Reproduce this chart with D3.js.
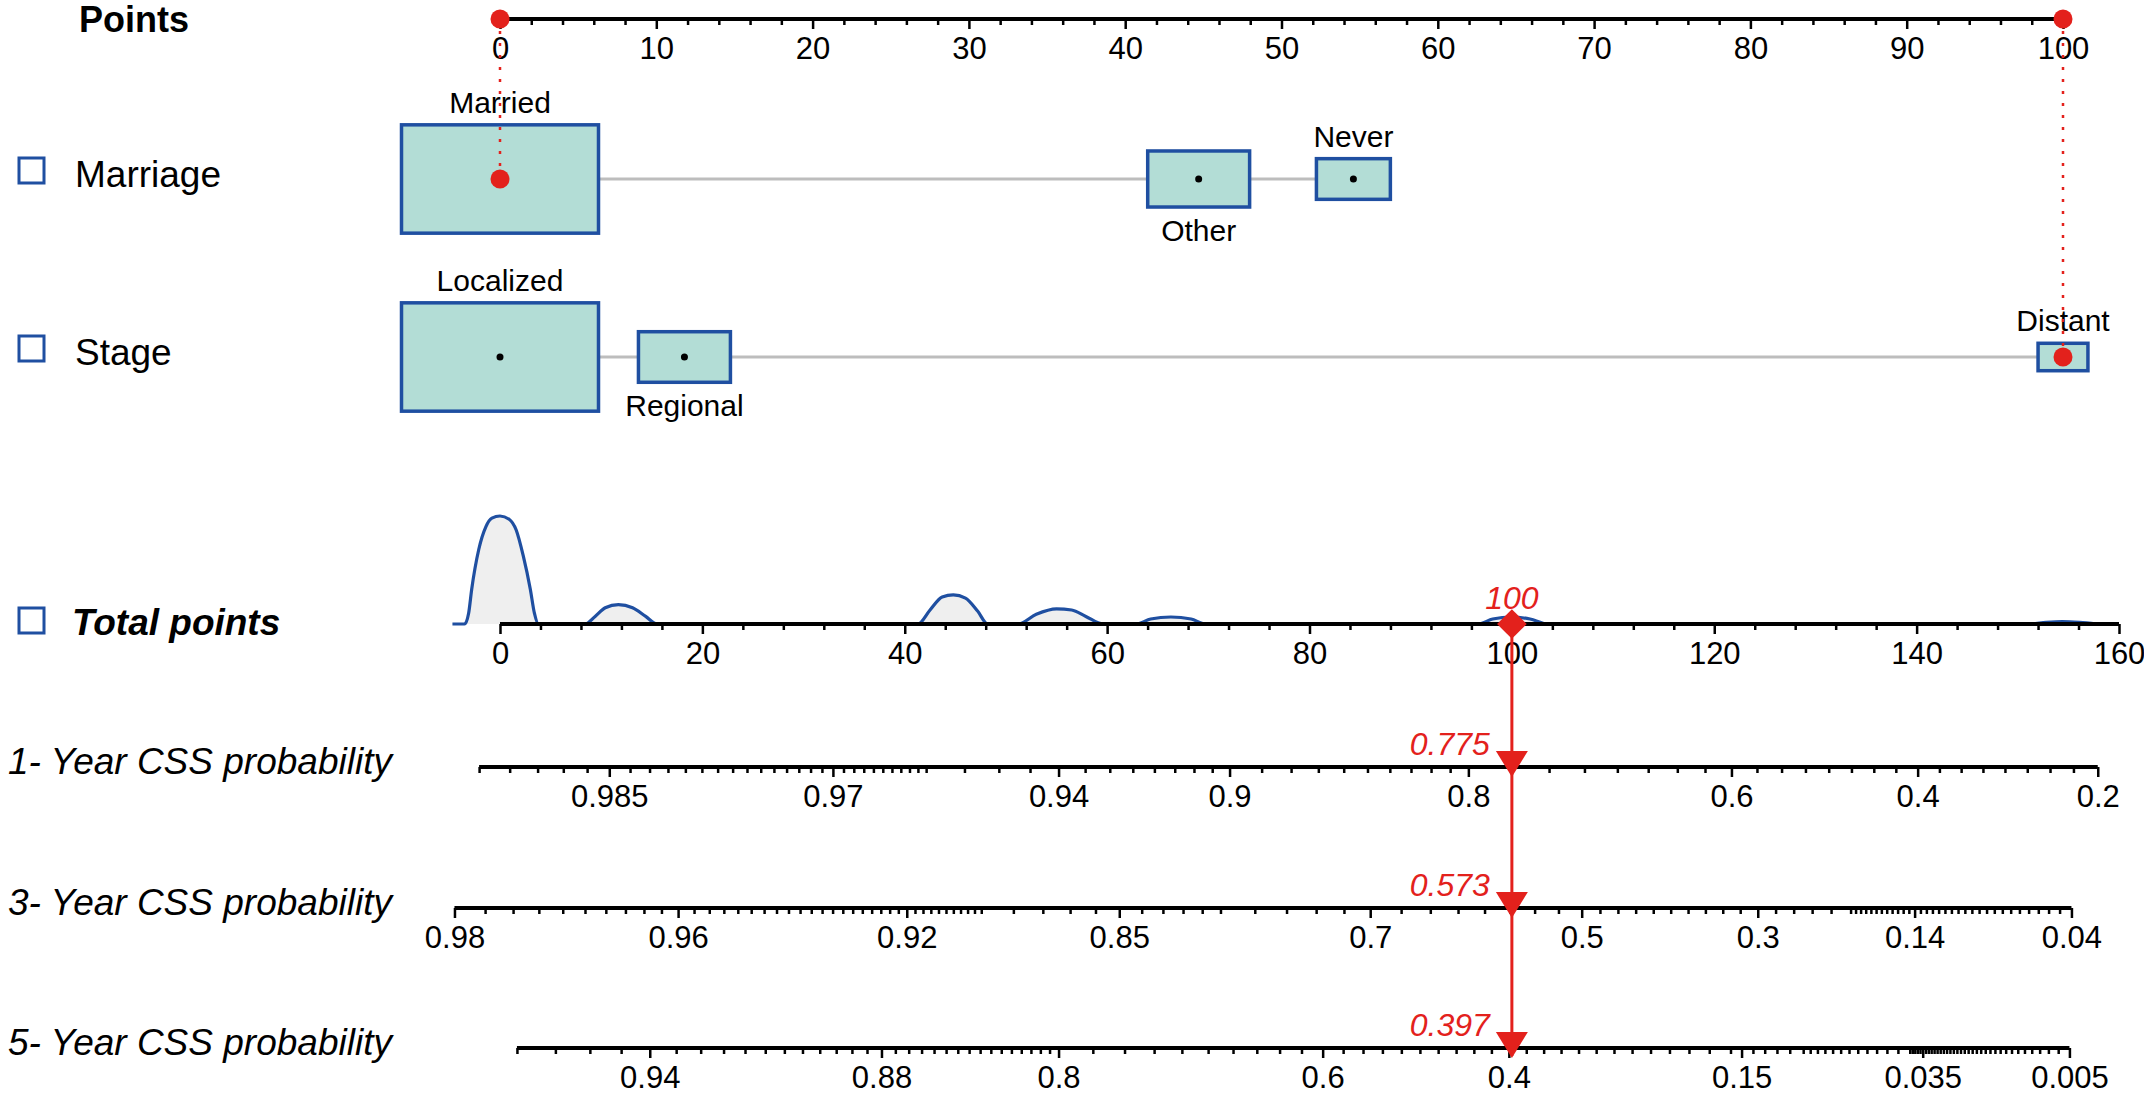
<!DOCTYPE html>
<html>
<head>
<meta charset="utf-8">
<script src="https://cdn.jsdelivr.net/npm/d3@7"></script>
<style>
  body { margin: 0; background: #ffffff; }
</style>
</head>
<body>
<script>
const WIDTH = 2144;
const HEIGHT = 1096;
const FONT = '"Liberation Sans", Arial, sans-serif';
const RED = "#e3211c";
const BLUE = "#1f4fa1";
const BOX_FILL = "#b3ddd6";
const GREY_LINE = "#bdbdbd";

// ---------- data ----------
const pointTicks = [0, 10, 20, 30, 40, 50, 60, 70, 80, 90, 100];
const pointMinor = [0, 2, 4, 6, 8, 12, 14, 16, 18, 22, 24, 26, 28, 32, 34, 36, 38, 42, 44, 46, 48,
  52, 54, 56, 58, 62, 64, 66, 68, 72, 74, 76, 78, 82, 84, 86, 88, 92, 94, 96, 98];
const totalTicks = [0, 20, 40, 60, 80, 100, 120, 140, 160];
const totalMinor = [4, 8, 12, 16, 24, 28, 32, 36, 44, 48, 52, 56, 64, 68, 72, 76, 84, 88, 92, 96,
  104, 108, 112, 116, 124, 128, 132, 136, 144, 148, 152, 156];

const variableNames = ["Marriage", "Stage"];

const marriageLevels = ["Married", "Other", "Never"];
const marriagePoints = [0, 44.7, 54.6];
const marriageShare = [0.71, 0.19, 0.10];

const stageLevels = ["Localized", "Regional", "Distant"];
const stagePoints = [0, 11.8, 100];
const stageShare = [0.78, 0.17, 0.05];

// density of total points (relative height)
const densityX = [-4.7, -3.5, -3.1, -2.8, -2.1, -1.4, -0.8, 0, 0.9, 1.6, 2.3, 3.0, 3.4, 3.8,
  8.4, 9.4, 10.4, 11.7, 13.1, 14.4, 15.5,
  41.3, 42.5, 43.7, 44.8, 46.0, 47.2, 48.2,
  51.2, 53.0, 55.0, 56.5, 57.9, 59.6,
  62.9, 64.3, 66.3, 68.3, 69.7,
  96.7, 98.1, 100.0, 101.8, 103.5,
  151.1, 152.8, 154.4, 156.1, 157.8];
const densityY = [0, 0, 0.10, 0.32, 0.69, 0.90, 0.98, 1.0, 0.97, 0.87, 0.63, 0.32, 0.10, 0,
  0, 0.07, 0.15, 0.18, 0.15, 0.07, 0,
  0, 0.13, 0.25, 0.27, 0.24, 0.12, 0,
  0, 0.09, 0.14, 0.13, 0.07, 0,
  0, 0.046, 0.065, 0.046, 0,
  0, 0.046, 0.065, 0.046, 0,
  0, 0.015, 0.022, 0.015, 0];

// the plotted observation
const obsRows = [0, 1];
const obsPoints = [0, 100];
const obsTotal = 100;
const obsProbs = [0.775, 0.573, 0.397];

// probability axes: labelled values and the total points they sit at
const probNames = ["1- Year CSS probability", "3- Year CSS probability", "5- Year CSS probability"];

const year1Labels = [0.985, 0.97, 0.94, 0.9, 0.8, 0.6, 0.4, 0.2];
const year1AtPoints = [10.8, 32.9, 55.2, 72.1, 95.7, 121.7, 140.1, 157.9];
const year1Ends = [0.99, 0.2];
const year1Steps = [[0.99, 0.96, 0.001], [0.96, 0.9, 0.005], [0.9, 0.8, 0.01], [0.8, 0.2, 0.025]];

const year3Labels = [0.98, 0.96, 0.92, 0.85, 0.7, 0.5, 0.3, 0.14, 0.04];
const year3AtPoints = [-4.5, 17.6, 40.2, 61.2, 86.0, 106.9, 124.3, 139.8, 155.3];
const year3Ends = [0.98, 0.04];
const year3Steps = [[0.98, 0.9, 0.002], [0.9, 0.8, 0.01], [0.8, 0.7, 0.02], [0.7, 0.5, 0.025],
  [0.5, 0.2, 0.02], [0.2, 0.04, 0.005]];

const year5Labels = [0.94, 0.88, 0.8, 0.6, 0.4, 0.15, 0.035, 0.005];
const year5AtPoints = [14.8, 37.7, 55.2, 81.3, 99.7, 122.7, 140.6, 155.1];
const year5Ends = [0.96, 0.005];
const year5Steps = [[0.96, 0.8, 0.005], [0.8, 0.16, 0.02], [0.16, 0.1, 0.01], [0.1, 0.04, 0.005],
  [0.04, 0.005, 0.001]];

// ---------- layout ----------
const POINTS_Y = 19;
const ROW_Y = [179, 357];
const TOTAL_Y = 624;
const PROB_Y = [767, 908, 1048];
const BOX_MAX_W = 197;

const svg = d3.select("body").append("svg")
  .attr("width", WIDTH)
  .attr("height", HEIGHT)
  .style("font-family", FONT);

const xPoints = d3.scaleLinear().domain([0, 100]).range([500, 2063]);
const xTotal = d3.scaleLinear().domain([0, 160]).range([500, 2119]);
const yDensity = d3.scaleLinear().domain([0, 1]).range([TOTAL_Y, TOTAL_Y - 108]);

const cloglog = p => Math.log(-Math.log(p));

//ticks from [from, to, step] pieces
const stepTicks = steps => {
  const out = [];
  steps.forEach(([a, b, s]) => {
    const n = Math.round((a - b) / s);
    d3.range(n + 1).forEach(i => out.push(+(a - i * s).toFixed(4)));
  });
  return Array.from(new Set(out));
};

//an axis with long labelled ticks and short minor ticks
const drawAxis = (y, scale, major, minor, fmt, extent) => {
  const g = svg.append("g").attr("transform", "translate(0," + y + ")");
  g.append("g").call(d3.axisBottom(scale).tickValues(minor).tickSize(6).tickSizeOuter(0).tickFormat(""));
  g.append("g").call(d3.axisBottom(scale).tickValues(major).tickSize(10).tickPadding(8).tickSizeOuter(0).tickFormat(fmt));
  g.selectAll(".domain").remove();
  g.selectAll(".tick line").attr("stroke", "#000").attr("stroke-width", 2.5);
  g.selectAll(".tick text")
    .attr("fill", "#000")
    .attr("font-size", 31)
    .attr("font-family", FONT);
  g.append("line")
    .attr("x1", extent[0]).attr("x2", extent[1])
    .attr("stroke", "#000").attr("stroke-width", 4);
  return g;
};

//labels on the left
const checkBox = y => {
  svg.append("rect")
    .attr("x", 19).attr("y", y).attr("width", 25).attr("height", 25)
    .attr("fill", "none").attr("stroke", BLUE).attr("stroke-width", 3);
};

const setLeftLabels = () => {
  svg.append("text").attr("x", 79).attr("y", 32)
    .attr("font-size", 36).attr("font-weight", "bold").text("Points");

  variableNames.forEach((name, i) => {
    checkBox(ROW_Y[i] - 21);
    svg.append("text").attr("x", 75).attr("y", ROW_Y[i] + 8)
      .attr("font-size", 37).text(name);
  });

  checkBox(TOTAL_Y - 16);
  svg.append("text").attr("x", 72).attr("y", TOTAL_Y + 11)
    .attr("font-size", 37).attr("font-weight", "bold").attr("font-style", "italic")
    .text("Total points");

  probNames.forEach((name, i) => {
    svg.append("text").attr("x", 8).attr("y", PROB_Y[i] + 7)
      .attr("font-size", 37).attr("font-style", "italic").text(name);
  });
};

//one categorical row: grey line, boxes, labels
const renderRow = (rowY, levels, points, share) => {
  const wScale = d3.scaleSqrt().domain([0, d3.max(share)]).range([0, BOX_MAX_W]);
  const rows = levels.map((l, i) => ({ level: l, x: xPoints(points[i]), w: wScale(share[i]), i: i }));
  const g = svg.append("g");

  g.append("line")
    .attr("x1", d3.min(rows, d => d.x)).attr("x2", d3.max(rows, d => d.x))
    .attr("y1", rowY).attr("y2", rowY)
    .attr("stroke", GREY_LINE).attr("stroke-width", 3);

  g.selectAll("rect").data(rows).enter().append("rect")
    .attr("x", d => d.x - d.w / 2)
    .attr("y", d => rowY - d.w * 0.275)
    .attr("width", d => d.w)
    .attr("height", d => d.w * 0.55)
    .attr("fill", BOX_FILL)
    .attr("stroke", BLUE)
    .attr("stroke-width", 3.5);

  g.selectAll("circle").data(rows).enter().append("circle")
    .attr("cx", d => d.x).attr("cy", rowY).attr("r", 3.5).attr("fill", "#000");

  g.selectAll("text").data(rows).enter().append("text")
    .attr("x", d => d.x)
    .attr("y", d => d.i % 2 === 0 ? rowY - d.w * 0.275 - 12 : rowY + d.w * 0.275 + 34)
    .attr("text-anchor", "middle")
    .attr("font-size", 30)
    .text(d => d.level);
};

//density of total points
const renderDensity = () => {
  const idx = d3.range(densityX.length);
  const area = d3.area()
    .x(i => xTotal(densityX[i]))
    .y0(TOTAL_Y)
    .y1(i => yDensity(densityY[i]))
    .curve(d3.curveMonotoneX);
  const line = d3.line()
    .x(i => xTotal(densityX[i]))
    .y(i => yDensity(densityY[i]))
    .curve(d3.curveMonotoneX);
  svg.append("path").attr("d", area(idx)).attr("fill", "#efefef");
  svg.append("path").attr("d", line(idx)).attr("fill", "none")
    .attr("stroke", BLUE).attr("stroke-width", 3.2);
};

//probability axes
const probAxes = [
  [year1Labels, year1AtPoints, year1Ends, year1Steps],
  [year3Labels, year3AtPoints, year3Ends, year3Steps],
  [year5Labels, year5AtPoints, year5Ends, year5Steps]
];

const renderProbAxes = () => {
  probAxes.forEach(([labels, atPts, ends, steps], k) => {
    const scale = d3.scaleLinear()
      .domain(labels.map(cloglog))
      .range(atPts.map(xTotal));
    const minor = stepTicks(steps).filter(p => !labels.includes(p)).map(cloglog);
    drawAxis(PROB_Y[k], scale, labels.map(cloglog), minor,
      (d, i) => String(labels[i]),
      [scale(cloglog(ends[0])), scale(cloglog(ends[1]))]);
  });
};

//the red observation
const renderObservation = () => {
  const xt = xTotal(obsTotal);

  obsRows.forEach((r, k) => {
    const x = xPoints(obsPoints[k]);
    svg.append("line")
      .attr("x1", x).attr("x2", x).attr("y1", POINTS_Y).attr("y2", ROW_Y[r])
      .attr("stroke", RED).attr("stroke-width", 2.5).attr("stroke-dasharray", "3 9");
    svg.append("circle").attr("cx", x).attr("cy", POINTS_Y).attr("r", 9.5).attr("fill", RED);
    svg.append("circle").attr("cx", x).attr("cy", ROW_Y[r]).attr("r", 9.5).attr("fill", RED);
  });

  svg.append("line")
    .attr("x1", xt).attr("x2", xt)
    .attr("y1", TOTAL_Y).attr("y2", PROB_Y[2] + 8)
    .attr("stroke", RED).attr("stroke-width", 3);

  svg.append("path")
    .attr("d", d3.symbol().type(d3.symbolDiamond2).size(560)())
    .attr("transform", "translate(" + xt + "," + TOTAL_Y + ")")
    .attr("fill", RED);

  svg.append("text")
    .attr("x", xt).attr("y", TOTAL_Y - 15)
    .attr("text-anchor", "middle")
    .attr("font-size", 32).attr("font-style", "italic").attr("fill", RED)
    .text(obsTotal);

  obsProbs.forEach((p, k) => {
    const y = PROB_Y[k];
    svg.append("path")
      .attr("d", "M" + (xt - 16) + "," + (y - 16) + "L" + (xt + 16) + "," + (y - 16) + "L" + xt + "," + (y + 10) + "Z")
      .attr("fill", RED);
    svg.append("text")
      .attr("x", xt - 22).attr("y", y - 12)
      .attr("text-anchor", "end")
      .attr("font-size", 32).attr("font-style", "italic").attr("fill", RED)
      .text(p);
  });
};

//render everything
const rend = () => {
  setLeftLabels();
  drawAxis(POINTS_Y, xPoints, pointTicks, pointMinor, d => d, xPoints.range());
  renderRow(ROW_Y[0], marriageLevels, marriagePoints, marriageShare);
  renderRow(ROW_Y[1], stageLevels, stagePoints, stageShare);
  renderDensity();
  drawAxis(TOTAL_Y, xTotal, totalTicks, totalMinor, d => d, xTotal.range());
  renderProbAxes();
  renderObservation();
};

rend();
</script>
</body>
</html>
